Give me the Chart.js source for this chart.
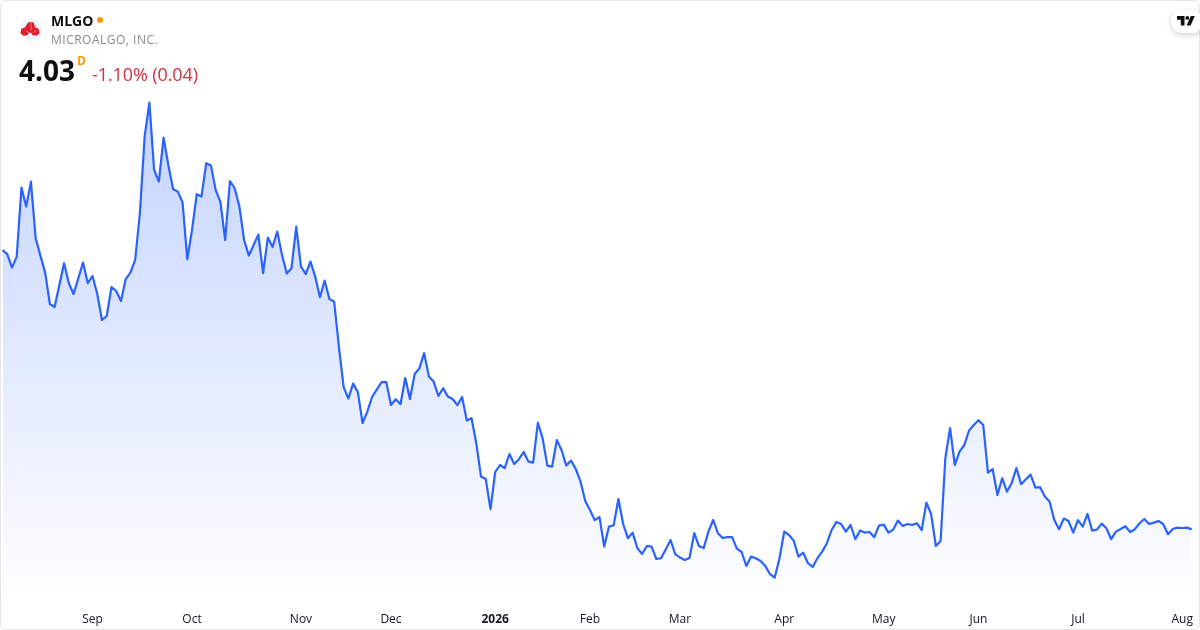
<!DOCTYPE html>
<html><head><meta charset="utf-8">
<script src="https://cdn.jsdelivr.net/npm/chart.js@4"></script>
<style>
html,body{margin:0;padding:0;background:#fff;width:1200px;height:630px;overflow:hidden;font-family:"Open Sans",sans-serif}
#wrap{position:relative;width:1200px;height:630px}
canvas{position:absolute;left:0;top:0}
#frame{position:absolute;left:0;top:0;width:1198px;height:628px;border:1px solid #e6e6e6;border-radius:6px;pointer-events:none}
.t{position:absolute;white-space:nowrap;line-height:1}
</style></head><body>
<div id="wrap">
<canvas id="c" width="1200" height="630"></canvas>
<div id="frame"></div>
<svg style="position:absolute;left:20px;top:19px" width="22" height="22" viewBox="0 0 22 22">
<circle cx="11" cy="11" r="11" fill="#f0f3fa"/>
<path d="M8.4 3.2h5.2l1.6 5.2 3.4 1.4 1 4.4-3 2.6-4-.6-1.6-2.4h-2l-1.6 2.4-4 .6-3-2.6 1-4.4 3.4-1.4z" fill="#e0202c"/>
<path d="M11 4v7.5 M6 11.5l3 2.5 M16 11.5l-3 2.5" stroke="#f5a3a8" stroke-width=".7" fill="none"/>
</svg>
<div class="t" style="left:51px;top:14px;font-size:14px;font-weight:700;color:#0f0f0f">MLGO</div>
<div style="position:absolute;left:97px;top:17px;width:6px;height:6px;border-radius:50%;background:#ff9800"></div>
<div class="t" style="left:51px;top:34px;font-size:12px;letter-spacing:.5px;color:#8a8a8a">MICROALGO, INC.</div>
<div class="t" style="left:19px;top:56px;font-size:28px;font-weight:700;color:#0f0f0f">4.03</div>
<div class="t" style="left:77px;top:55px;font-size:12px;font-weight:700;color:#ff9800">D</div>
<div class="t" style="left:92px;top:65px;font-size:18px;color:#d32f3f;letter-spacing:-.1px">-1.10% (0.04)</div>
<div style="position:absolute;left:1171px;top:10px;width:32px;height:23px;border-radius:12px;background:#fff;box-shadow:0 2px 6px rgba(0,0,0,.18)"></div>
<svg style="position:absolute;left:1177px;top:16px" width="18" height="10" viewBox="0 0 18 10">
<path d="M0 0h7.5v9.5h-3.7v-5.7h-3.8z M17.8 0l-4.2 9.5h-4l4.2-9.5z" fill="#0f0f0f"/><circle cx="10.3" cy="1.9" r="1.9" fill="#0f0f0f"/>
</svg>
</div>
<script>
const tickLabels = ["Sep","Oct","Nov","Dec","2026","Feb","Mar","Apr","May","Jun","Jul","Aug"];
const tickIndex = [19,40,63,82,104,124,143,165,186,206,227,249];
const closePrices = [
17.99,17.79,17.12,17.67,21.12,20.17,21.42,18.59,17.72,16.87,15.30,15.15,16.25,17.34,16.34,15.80,16.59,17.37,16.34,16.70,
15.80,14.50,14.70,16.15,15.95,15.45,16.54,16.87,17.50,19.84,23.67,25.37,22.00,21.42,23.62,22.25,21.05,20.92,20.39,17.54,
19.00,20.79,20.67,22.34,22.22,21.00,20.39,18.50,21.45,21.09,20.17,18.50,17.72,18.25,18.77,16.84,18.62,18.15,18.92,17.75,
16.82,17.09,19.17,17.17,16.80,17.42,16.67,15.64,16.47,15.55,15.42,13.17,11.14,10.57,11.32,10.89,9.35,9.92,10.65,11.02,
11.39,11.39,10.25,10.54,10.29,11.60,10.55,11.80,12.09,12.84,11.67,11.42,10.70,11.09,10.67,10.55,10.24,10.65,9.47,9.59,
8.34,6.67,6.55,5.04,6.90,7.25,7.09,7.80,7.30,7.54,7.90,7.42,7.37,9.37,8.59,7.22,7.17,8.50,8.00,7.22,
7.47,7.05,6.42,5.45,5.00,4.49,4.65,3.17,4.17,4.24,5.55,4.30,3.59,3.87,3.09,2.80,3.20,3.17,2.55,2.59,
3.04,3.50,2.79,2.62,2.50,2.60,3.84,3.20,3.10,3.92,4.50,3.84,3.60,3.64,3.64,3.07,2.90,2.20,2.67,2.59,
2.45,2.20,1.79,1.62,2.59,3.92,3.75,3.47,2.67,2.87,2.34,2.15,2.59,2.92,3.34,4.00,4.40,4.30,3.92,4.25,
3.54,3.97,3.87,3.90,3.64,4.22,4.27,3.87,4.02,4.47,4.20,4.30,4.25,4.34,3.99,5.37,4.80,3.20,3.45,7.59,
9.09,7.25,7.92,8.25,8.97,9.25,9.49,9.25,6.87,7.04,5.75,6.59,5.92,6.34,7.10,6.29,6.54,6.77,6.12,6.14,
5.67,5.42,4.50,4.04,4.57,4.45,3.87,4.49,4.17,4.80,3.97,4.02,4.32,4.09,3.54,3.92,4.05,4.19,3.90,4.04,
4.34,4.55,4.30,4.37,4.45,4.29,3.79,4.05,4.12,4.10,4.12,4.03];
const categories = closePrices.map((_, i) => {
  const k = tickIndex.indexOf(i);
  return k >= 0 ? tickLabels[k] : "";
});
new Chart(document.getElementById("c"), {
  type: "line",
  data: {
    labels: categories,
    datasets: [{
      data: closePrices,
      borderColor: "#2962ff",
      borderWidth: 2.2,
      pointRadius: 0,
      tension: 0,
      fill: "start",
      borderJoinStyle: "round",
      backgroundColor(ctx) {
        const g = ctx.chart.ctx.createLinearGradient(0, 100, 0, 604);
        g.addColorStop(0, "rgba(41,98,255,0.28)");
        g.addColorStop(1, "rgba(41,98,255,0)");
        return g;
      }
    }]
  },
  options: {
    responsive: false,
    animation: false,
    layout: { padding: { left: 2.5, right: 8.3, top: 0, bottom: 0 } },
    plugins: { legend: { display: false }, tooltip: { enabled: false } },
    scales: {
      y: { display: false, min: 0.3, max: 30.5 },
      x: {
        grid: { display: false },
        border: { display: false },
        afterFit(s) { s.height = 26; },
        ticks: {
          autoSkip: false, maxRotation: 0, minRotation: 0, padding: 0,
          color: "#131722",
          font: c => ({ family: "'Open Sans'", size: 12, weight: c.tick && c.tick.label === "2026" ? "bold" : "normal" }),
          callback(v) { return this.getLabelForValue(v) || null; }
        }
      }
    }
  }
});
</script>
</body></html>
